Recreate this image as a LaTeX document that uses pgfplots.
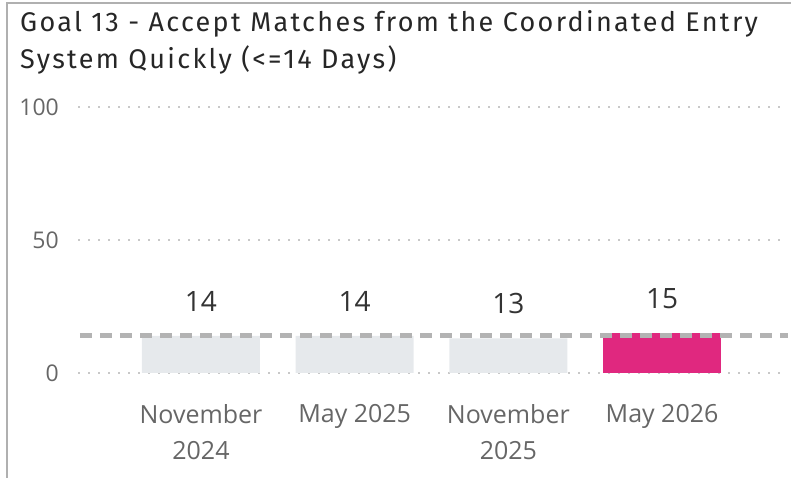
\documentclass[border=0pt]{standalone}
\usepackage{pgfplots}
\pgfplotsset{compat=1.18}
\usepackage{fontspec}
\setmainfont{Open Sans}
\newfontfamily\titlefont[LetterSpace=8.5]{Fira Sans}
\definecolor{lightbar}{HTML}{E6E9EC}
\definecolor{pinkbar}{HTML}{E0287F}
\definecolor{target}{HTML}{B3B3B3}
\definecolor{ticktxt}{HTML}{666666}
\definecolor{valtxt}{HTML}{333333}
\definecolor{gridc}{HTML}{C8C8C8}
\definecolor{framec}{HTML}{B0B0B0}

\begin{document}
\begin{tikzpicture}[x=1pt,y=1pt]
\path[use as bounding box] (0,0) rectangle (791,478);
\draw[framec, line width=2pt] (7,0) -- (7,474.5) -- (791,474.5);
\node[anchor=base west, inner sep=0pt, text=black!85,
  font=\titlefont\fontsize{27}{32}\selectfont] at (20,446)
  {Goal 13 - Accept Matches from the Coordinated Entry};
\node[anchor=base west, inner sep=0pt, text=black!85,
  font=\titlefont\fontsize{27}{32}\selectfont] at (20,409)
  {System Quickly (<=14 Days)};
\begin{axis}[
  at={(78pt,105pt)}, anchor=south west,
  scale only axis, width=707pt, height=266pt,
  xmin=-0.8, xmax=3.8, ymin=0, ymax=100,
  /pgf/number format/assume math mode=true,
  axis line style={draw=none}, major tick length=0pt,
  ytick={0,50,100},
  ymajorgrids, grid style={gridc, line width=1.5pt, dash pattern=on 1.5pt off 8.5pt},
  xtick={0,1,2,3},
  xticklabels={November\\2024, May 2025, November\\2025, May 2026},
  xticklabel style={align=center, font=\fontsize{25}{36}\selectfont,
    text=ticktxt, anchor=north, inner sep=0pt, yshift=-31pt},
  yticklabel style={font=\fontsize{23}{28}\selectfont, text=ticktxt,
    anchor=east, inner sep=0pt, xshift=-19pt},
  ybar, bar width=118pt, bar shift=0pt, clip=false]
\addplot[fill=lightbar, draw=none, nodes near coords,
  every node near coord/.style={font=\fontsize{28}{32}\selectfont, text=valtxt,
    anchor=south, inner sep=0pt, yshift=24pt}]
  coordinates {(0,14)(1,14)(2,13)};
\addplot[fill=pinkbar, draw=none, nodes near coords,
  every node near coord/.style={font=\fontsize{28}{32}\selectfont, text=valtxt,
    anchor=south, inner sep=0pt, yshift=24pt}]
  coordinates {(3,15)};
\addplot[sharp plot, target, line width=5pt, dash pattern=on 12pt off 8pt]
  coordinates {(-0.787,14)(3.819,14)};
\end{axis}
\end{tikzpicture}
\end{document}
